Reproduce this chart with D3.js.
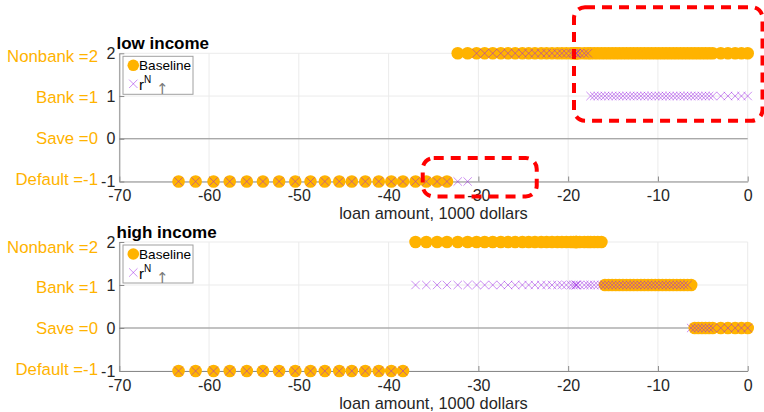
<!DOCTYPE html>
<html>
<head>
<meta charset="utf-8">
<script src="https://cdn.jsdelivr.net/npm/d3@7"></script>
<style>
  html, body { margin: 0; padding: 0; background: #fff; }
  svg { display: block; font-family: "Liberation Sans", Arial, Helvetica, sans-serif; }
</style>
</head>
<body>
<svg id="chart" width="764" height="412"></svg>
<script>
// Loan amount grid, in 1000 dollars (negative = borrowing)
const loanGrid = [
  -63.4, -61.5, -59.5, -57.7, -55.8, -54.0, -52.2, -50.4, -48.7, -47.1,
  -45.5, -44.1, -42.6, -41.1, -39.7, -38.4, -37.0, -35.8, -34.6, -33.5,
  -32.3, -31.2, -30.2, -29.3, -28.4, -27.5, -26.7, -25.9, -25.1, -24.4,
  -23.7, -23.0, -22.4, -21.8, -21.2, -20.7, -20.2, -19.7, -19.4, -19.15,
  -19.1, -19.05, -18.7, -18.2, -17.8, -17.5, -17.1, -16.7, -16.3, -15.9,
  -15.5, -15.1, -14.7, -14.3, -13.9, -13.5, -13.1, -12.7, -12.3, -11.9,
  -11.5, -11.1, -10.7, -10.3, -9.9, -9.5, -9.1, -8.7, -8.3, -7.9,
  -7.5, -7.1, -6.7, -6.3, -5.9, -5.5, -5.1, -4.7, -4.3, -3.9,
  -3.0, -2.2, -1.4, -0.7, 0
];

// Chosen option at each grid point: -1 default, 0 save, 1 bank, 2 nonbank
const lowBaseline = [
  -1, -1, -1, -1, -1, -1, -1, -1, -1, -1,
  -1, -1, -1, -1, -1, -1, -1, -1, -1, -1,
   2,  2,  2,  2,  2,  2,  2,  2,  2,  2,
   2,  2,  2,  2,  2,  2,  2,  2,  2,  2,
   2,  2,  2,  2,  2,  2,  2,  2,  2,  2,
   2,  2,  2,  2,  2,  2,  2,  2,  2,  2,
   2,  2,  2,  2,  2,  2,  2,  2,  2,  2,
   2,  2,  2,  2,  2,  2,  2,  2,  2,  2,
   2,  2,  2,  2,  2
];
const lowRN = [
  -1, -1, -1, -1, -1, -1, -1, -1, -1, -1,
  -1, -1, -1, -1, -1, -1, -1, -1, -1, -1,
  -1, -1,  2,  2,  2,  2,  2,  2,  2,  2,
   2,  2,  2,  2,  2,  2,  2,  2,  2,  2,
   2,  2,  2,  2,  2,  1,  1,  1,  1,  1,
   1,  1,  1,  1,  1,  1,  1,  1,  1,  1,
   1,  1,  1,  1,  1,  1,  1,  1,  1,  1,
   1,  1,  1,  1,  1,  1,  1,  1,  1,  1,
   1,  1,  1,  1,  1
];
const highBaseline = [
  -1, -1, -1, -1, -1, -1, -1, -1, -1, -1,
  -1, -1, -1, -1, -1, -1,  2,  2,  2,  2,
   2,  2,  2,  2,  2,  2,  2,  2,  2,  2,
   2,  2,  2,  2,  2,  2,  2,  2,  2,  2,
   2,  2,  2,  2,  2,  2,  2,  2,  2,  1,
   1,  1,  1,  1,  1,  1,  1,  1,  1,  1,
   1,  1,  1,  1,  1,  1,  1,  1,  1,  1,
   1,  1,  1,  1,  0,  0,  0,  0,  0,  0,
   0,  0,  0,  0,  0
];
const highRN = [
  -1, -1, -1, -1, -1, -1, -1, -1, -1, -1,
  -1, -1, -1, -1, -1, -1,  1,  1,  1,  1,
   1,  1,  1,  1,  1,  1,  1,  1,  1,  1,
   1,  1,  1,  1,  1,  1,  1,  1,  1,  1,
   1,  1,  1,  1,  1,  1,  1,  1,  1,  1,
   1,  1,  1,  1,  1,  1,  1,  1,  1,  1,
   1,  1,  1,  1,  1,  1,  1,  1,  1,  1,
   1,  1,  1,  0,  0,  0,  0,  0,  0,  0,
   0,  0,  0,  0,  0
];

const xTicks = [-70, -60, -50, -40, -30, -20, -10, 0];
const yTicks = [-1, 0, 1, 2];
const choiceCodes = [2, 1, 0, -1];
const choiceLabels = ["Nonbank =2", "Bank =1", "Save =0", "Default =-1"];
const panelTitles = ["low income", "high income"];
const xLabel = "loan amount, 1000 dollars";

// ---- drawing ----
const ORANGE = "#FFB300";
const PURPLE = "#9a1ee6";
const svg = d3.select("#chart");

const x = d3.scaleLinear().domain([-70, 0]).range([119.3, 747.7]);

const panels = [
  { title: panelTitles[0], top: 53.3, bottom: 181.5, base: lowBaseline, rn: lowRN, lab: [-2.5, 2.7] },
  { title: panelTitles[1], top: 242, bottom: 371, base: highBaseline, rn: highRN, lab: [-2, 4.6] }
];

const crossPath = "M-4.2,-4.2L4.2,4.2M-4.2,4.2L4.2,-4.2";

panels.forEach((p, pi) => {
  const y = d3.scaleLinear().domain([-1, 2]).range([p.bottom, p.top]);
  p.y = y;
  const g = svg.append("g");

  // grid
  g.selectAll(".vg").data(xTicks).join("line")
    .attr("x1", d => x(d)).attr("x2", d => x(d))
    .attr("y1", p.top).attr("y2", p.bottom)
    .attr("stroke", "#ebebeb").attr("stroke-width", 1);
  g.selectAll(".hg").data(yTicks).join("line")
    .attr("x1", x(-70)).attr("x2", x(0))
    .attr("y1", d => y(d)).attr("y2", d => y(d))
    .attr("stroke", "#ebebeb").attr("stroke-width", 1);

  // zero reference line
  g.append("line")
    .attr("x1", x(-70)).attr("x2", x(0))
    .attr("y1", y(0)).attr("y2", y(0))
    .attr("stroke", "#8f8f8f").attr("stroke-width", 1);

  // axes
  const xAxis = d3.axisBottom(x).tickValues(xTicks)
    .tickSizeInner(-5).tickSizeOuter(0).tickPadding(8.5)
    .tickFormat(d => String(d));
  const gx = g.append("g").attr("transform", `translate(0,${p.bottom})`).call(xAxis);
  const yAxis = d3.axisLeft(y).tickValues(yTicks)
    .tickSizeInner(-5).tickSizeOuter(0).tickPadding(4)
    .tickFormat(d => String(d));
  const gy = g.append("g").attr("transform", `translate(${x(-70)},0)`).call(yAxis);
  [gx, gy].forEach(a => {
    a.select(".domain").attr("stroke", "#8a8a8a");
    a.selectAll(".tick line").attr("stroke", "#8a8a8a");
    a.selectAll(".tick text").attr("fill", "#262626")
      .style("font-size", "16px").style("font-family", "'Liberation Sans', Arial, sans-serif");
  });

  // choice labels
  const ly = d3.scaleLinear().domain([-1, 2]).range([p.bottom + p.lab[0], p.top + p.lab[1]]);
  g.selectAll(".cl").data(choiceCodes).join("text")
    .attr("x", 98).attr("y", d => ly(d)).attr("dy", "0.36em")
    .attr("text-anchor", "end").attr("fill", ORANGE)
    .style("font-size", "16.8px")
    .text((d, i) => choiceLabels[i]);

  // title
  g.append("text").attr("x", 116.5).attr("y", p.top - 4)
    .attr("fill", "#000").style("font-size", "17px").style("font-weight", "bold")
    .text(p.title);

  // x label
  g.append("text").attr("x", (x(-70) + x(0)) / 2).attr("y", p.bottom + 37.5)
    .attr("text-anchor", "middle").attr("fill", "#262626").style("font-size", "16.4px")
    .text(xLabel);

  // baseline choices
  g.append("g").selectAll("circle").data(loanGrid).join("circle")
    .attr("cx", d => x(d)).attr("cy", (d, i) => y(p.base[i]))
    .attr("r", 6.3).attr("fill", ORANGE);

  // r^N choices
  g.append("g").selectAll("path").data(loanGrid).join("path")
    .attr("transform", (d, i) => `translate(${x(d)},${y(p.rn[i])})`)
    .attr("d", crossPath)
    .attr("fill", "none").attr("stroke", PURPLE)
    .attr("stroke-opacity", 0.5).attr("stroke-width", 1);

  // legend
  const lg = g.append("g").attr("transform", `translate(123,${p.top + 3})`);
  lg.append("rect").attr("x", 0).attr("y", 0).attr("width", 70).attr("height", 38)
    .attr("fill", "#fff").attr("stroke", "#a0a0a0").attr("stroke-width", 1);
  lg.append("circle").attr("cx", 10.3).attr("cy", 9).attr("r", 5.8).attr("fill", ORANGE);
  lg.append("text").attr("x", 16).attr("y", 14).attr("fill", "#000")
    .style("font-size", "13.6px").text("Baseline");
  lg.append("path").attr("transform", "translate(10.3,27.5)").attr("d", crossPath)
    .attr("fill", "none").attr("stroke", PURPLE).attr("stroke-opacity", 0.5);
  const rt = lg.append("text").attr("x", 16).attr("y", 34).attr("fill", "#000")
    .style("font-size", "15px");
  rt.append("tspan").text("r");
  rt.append("tspan").attr("dy", -7).style("font-size", "10px").text("N");
  lg.append("text").attr("x", 33).attr("y", 37.5).attr("fill", "#7a7a7a")
    .style("font-size", "15px").style("font-family", "'DejaVu Sans', sans-serif")
    .text("↑");
});

// highlighted regions (data units of the low income panel)
const highlights = [
  { x0: -19.35, x1: 1.65, y0: 3.08, y1: 0.42 },
  { x0: -36.2, x1: -23.5, y0: -0.45, y1: -1.35 }
];
const yTop = panels[0].y;
svg.append("g").selectAll("rect").data(highlights).join("rect")
  .attr("x", d => x(d.x0)).attr("y", d => yTop(d.y0))
  .attr("width", d => x(d.x1) - x(d.x0)).attr("height", d => yTop(d.y1) - yTop(d.y0))
  .attr("rx", 11).attr("ry", 11)
  .attr("fill", "none").attr("stroke", "#ff0000").attr("stroke-width", 4)
  .attr("stroke-dasharray", "10,7");
</script>
</body>
</html>
